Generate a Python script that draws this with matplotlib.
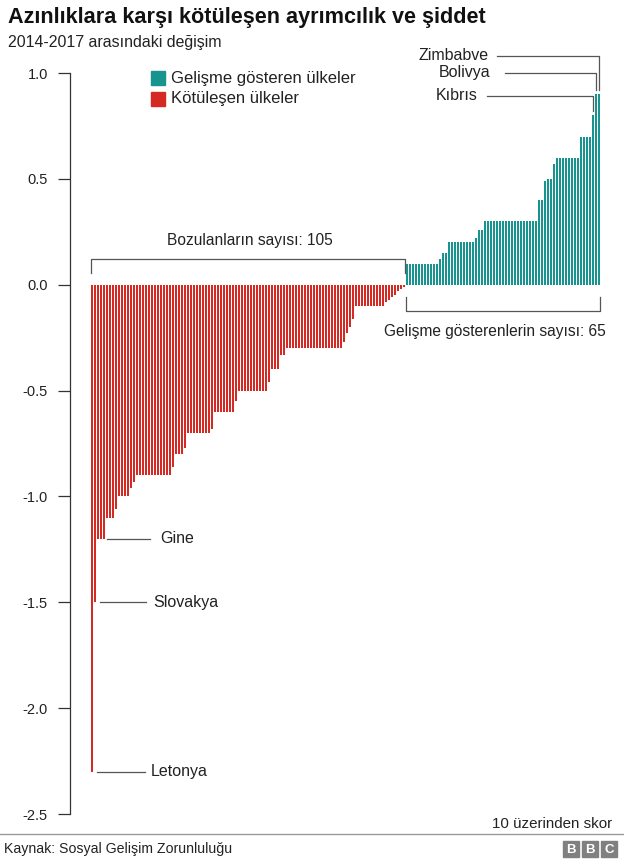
import matplotlib
matplotlib.use("Agg")
import matplotlib.pyplot as plt
from matplotlib.patches import Rectangle

plt.rcParams['font.family'] = ['Liberation Sans', 'DejaVu Sans']

# ---- data (score change 2014-2017, out of 10) ----
worsening = ([-2.3, -1.5] + [-1.2] * 3 + [-1.1] * 3 + [-1.06] + [-1.0] * 4 + [-0.96, -0.93]
             + [-0.9] * 12 + [-0.86] + [-0.8] * 3 + [-0.77] + [-0.7] * 8 + [-0.68]
             + [-0.6] * 7 + [-0.55] + [-0.5] * 10 + [-0.46] + [-0.4] * 3 + [-0.33] * 2
             + [-0.3] * 19 + [-0.27, -0.23, -0.2, -0.16] + [-0.1] * 10
             + [-0.08, -0.07, -0.06, -0.05, -0.03, -0.02, -0.01])
improving = ([0.1] * 11 + [0.12] + [0.15] * 2 + [0.2] * 9 + [0.22] + [0.26] * 2
             + [0.3] * 18 + [0.4] * 2 + [0.49] + [0.5] * 2 + [0.57] + [0.6] * 8
             + [0.7] * 4 + [0.8] + [0.9] * 2)
yticks = [1.0, 0.5, 0.0, -0.5, -1.0, -1.5, -2.0, -2.5]
ytick_labels = ["1.0", "0.5", "0.0", "-0.5", "-1.0", "-1.5", "-2.0", "-2.5"]
legend_labels = ["Gelişme gösteren ülkeler", "Kötüleşen ülkeler"]

RED = "#d42a23"
TEAL = "#17948f"
TXT = "#222222"

W, H = 624, 863
fig = plt.figure(figsize=(W / 100, H / 100), dpi=100)

def fx(px):
    return px / W

def fy(py):
    return 1 - py / H

ax = fig.add_axes([fx(70), fy(814), fx(604) - fx(70), (814 - 73) / H])

n_red = len(worsening)
n_teal = len(improving)
xr = list(range(n_red))
xt = list(range(n_red, n_red + n_teal))
ax.bar(xr, worsening, width=0.67, color=RED, linewidth=0)
ax.bar(xt, improving, width=0.67, color=TEAL, linewidth=0)

pitch = 3.0
X0 = 92.0
def px2x(px):
    return (px - X0) / pitch

ax.set_xlim(px2x(70), px2x(604))
ax.set_ylim(-2.5, 1.0)

for s in ["top", "right", "bottom"]:
    ax.spines[s].set_visible(False)
ax.spines["left"].set_color("#333333")
ax.spines["left"].set_linewidth(0.9)
ax.set_xticks([])
ax.set_yticks(yticks)
ax.set_yticklabels(ytick_labels)
ax.tick_params(axis="y", length=9, width=0.9, color="#333333", pad=7,
               labelsize=10.5, labelcolor=TXT)
ax.set_facecolor("none")

def py2y(py):
    return (284 - py) / 211.7

lc = "#555555"
lw = 0.9
FS = 11.5

# bracket for worsening
yb = py2y(258)
yb2 = py2y(272)
ax.plot([-0.3, -0.3, n_red - 0.7, n_red - 0.7], [yb2, yb, yb, yb2], color=lc, lw=lw,
        clip_on=False)
ax.text(px2x(250), py2y(240), f"Bozulanların sayısı: {n_red}", ha="center",
        va="center", fontsize=11.2, color=TXT)

# bracket for improving
yt1 = py2y(310)
yt2 = py2y(296)
ax.plot([n_red - 0.3, n_red - 0.3, n_red + n_teal - 0.7, n_red + n_teal - 0.7],
        [yt2, yt1, yt1, yt2], color=lc, lw=lw, clip_on=False)
ax.text(px2x(495), py2y(331), f"Gelişme gösterenlerin sayısı: {n_teal}", ha="center",
        va="center", fontsize=11.2, color=TXT)

# labels for worst countries
for name, idx, x0, x1, xt_ in [("Gine", 2, 107, 150, 160),
                               ("Slovakya", 1, 100, 146, 153),
                               ("Letonya", 0, 97, 145, 151)]:
    yv = worsening[idx]
    ax.plot([px2x(x0), px2x(x1)], [yv, yv], color=lc, lw=lw, clip_on=False)
    ax.text(px2x(xt_), yv, name, ha="left", va="center", fontsize=FS, color=TXT)

# labels for best countries
last = n_red + n_teal - 1
for name, idx, pyl, x0, xtext in [("Zimbabve", last, 55, 497, 489),
                                  ("Bolivya", last - 1, 72, 505, 490),
                                  ("Kıbrıs", last - 2, 95, 487, 478)]:
    yv = improving[idx - n_red]
    yl = py2y(pyl)
    ax.plot([px2x(x0), idx, idx], [yl, yl, yv + 0.02], color=lc, lw=lw, clip_on=False)
    ax.text(px2x(xtext), yl, name, ha="right", va="center", fontsize=FS, color=TXT)

# legend
for i, (lab, col) in enumerate(zip(legend_labels, [TEAL, RED])):
    cy = 78 + i * 21
    fig.patches.append(Rectangle((fx(151), fy(cy + 7)), 14 / W, 14 / H,
                                 transform=fig.transFigure, color=col))
    fig.text(fx(171), fy(cy), lab, ha="left", va="center", fontsize=12, color=TXT)

# titles
fig.text(fx(8), fy(17), "Azınlıklara karşı kötüleşen ayrımcılık ve şiddet",
         ha="left", va="center", fontsize=15.6, fontweight="bold", color="#111111")
fig.text(fx(8), fy(43), "2014-2017 arasındaki değişim", ha="left", va="center",
         fontsize=11.4, color=TXT)

fig.text(fx(612), fy(824), "10 üzerinden skor", ha="right", va="center",
         fontsize=10.9, color=TXT)
fig.add_artist(plt.Line2D([0, 1], [fy(834), fy(834)], transform=fig.transFigure,
                          color="#999999", lw=1))
fig.text(fx(4), fy(849), "Kaynak: Sosyal Gelişim Zorunluluğu", ha="left",
         va="center", fontsize=10.2, color=TXT)

# BBC logo
for i, ch in enumerate("BBC"):
    x0 = 563 + i * 19
    fig.patches.append(Rectangle((fx(x0), fy(857)), 16 / W, 16 / H,
                                 transform=fig.transFigure, color="#808080"))
    fig.text(fx(x0 + 8), fy(849.5), ch, ha="center", va="center", fontsize=9.5,
             fontweight="bold", color="white")

fig.savefig("out.png", dpi=100)
